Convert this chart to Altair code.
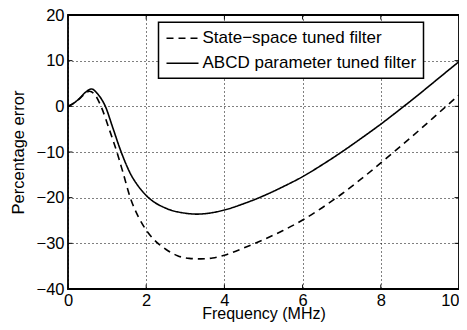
import altair as alt
import pandas as pd

# ---- data ----
freq_ss = [0, 0.15, 0.3, 0.45, 0.55, 0.7, 0.845, 1.05, 1.25, 1.4, 1.6, 1.8, 2.0, 2.2, 2.5,
           2.8, 3.1, 3.4, 3.7, 4.0, 4.5, 5.0, 5.5, 6.0, 6.5, 7.0, 7.5, 8.0, 8.5, 9.0, 9.5, 10]
err_ss = [0, 0.7, 1.7, 2.9, 3.3, 2.4, 0, -4.9, -10, -14.3, -20.2, -24.2, -27.1, -29.2, -31.3,
          -32.7, -33.3, -33.4, -33.2, -32.6, -31.0, -29.2, -27.2, -24.9, -22.2, -19.2, -15.9,
          -12.4, -8.8, -5.1, -1.3, 2.5]

freq_abcd = [0, 0.15, 0.3, 0.45, 0.6, 0.75, 0.955, 1.15, 1.36, 1.6, 1.8, 2.06, 2.5, 3.0, 3.3,
             3.6, 4.0, 4.5, 5.0, 5.5, 6.0, 6.5, 7.0, 7.5, 8.0, 8.5, 9.0, 9.5, 10]
err_abcd = [0, 0.7, 1.8, 3.1, 3.8, 2.8, 0, -4.8, -10, -14.8, -17.5, -20, -22.3, -23.4, -23.6,
            -23.4, -22.7, -21.3, -19.6, -17.6, -15.4, -12.8, -10.0, -7.0, -3.9, -0.6, 2.8,
            6.3, 9.8]

series_names = ["State\u2212space tuned filter", "ABCD parameter tuned filter"]
x_ticks = [0, 2, 4, 6, 8, 10]
y_ticks = [-40, -30, -20, -10, 0, 10, 20]

df = pd.concat([
    pd.DataFrame({"f": freq_ss, "e": err_ss, "s": series_names[0]}),
    pd.DataFrame({"f": freq_abcd, "e": err_abcd, "s": series_names[1]}),
])
df_xt = pd.DataFrame({"t": x_ticks})
df_yt = pd.DataFrame({"t": y_ticks})

W, H = 391, 274
FONT = "Liberation Sans"

xscale = alt.Scale(domain=[0, 10], nice=False, zero=False)
yscale = alt.Scale(domain=[-40, 20], nice=False, zero=False)

lines = alt.Chart(df).mark_line(color="black", strokeWidth=1.6, interpolate="monotone", clip=True).encode(
    x=alt.X("f:Q", scale=xscale,
            axis=alt.Axis(values=x_ticks, title="Frequency (MHz)", labelPadding=3,
                          labelAlign={"condition": {"test": "datum.value == 10", "value": "right"},
                                      "value": "center"},
                          titleBaseline="bottom", titleY=32.5, titleFontSize=16)),
    y=alt.Y("e:Q", scale=yscale,
            axis=alt.Axis(values=y_ticks, title="Percentage error", labelPadding=4, titlePadding=10)),
    strokeDash=alt.StrokeDash(
        "s:N",
        scale=alt.Scale(domain=series_names, range=[[7, 5], [1, 0]]),
        sort=series_names,
        legend=alt.Legend(
            title=None, orient="none", legendX=90.5, legendY=7.2,
            symbolType="M-1,0H3", symbolSize=256, symbolStrokeWidth=1.6,
            symbolStrokeColor="black", symbolFillColor="transparent",
            labelFontSize=17, labelFont=FONT,
            labelColor="black", labelOffset=19, labelLimit=0, rowPadding=8, padding=7,
            strokeColor="black", fillColor="white",
        ),
    ),
)

tick_len = 4.5
xt_bot = alt.Chart(df_xt).mark_rule(color="black", strokeWidth=1).encode(
    x=alt.X("t:Q", scale=xscale), y=alt.value(H), y2=alt.value(H - tick_len))
xt_top = alt.Chart(df_xt).mark_rule(color="black", strokeWidth=1).encode(
    x=alt.X("t:Q", scale=xscale), y=alt.value(0), y2=alt.value(tick_len))
yt_l = alt.Chart(df_yt).mark_rule(color="black", strokeWidth=1).encode(
    y=alt.Y("t:Q", scale=yscale), x=alt.value(0), x2=alt.value(tick_len))
yt_r = alt.Chart(df_yt).mark_rule(color="black", strokeWidth=1).encode(
    y=alt.Y("t:Q", scale=yscale), x=alt.value(W), x2=alt.value(W - tick_len))

chart = alt.layer(lines, xt_bot, xt_top, yt_l, yt_r).properties(
    width=W, height=H,
    autosize=alt.AutoSizeParams(type="none"),
    padding={"left": 60, "top": 7, "right": 0, "bottom": 33},
).configure(
    background="white"
).configure_view(
    stroke="black", strokeWidth=1.8, fill="white"
).configure_axis(
    grid=True, gridColor="black", gridDash=[1, 3], gridWidth=1, gridOpacity=1,
    domain=False, ticks=False, labelFont=FONT, labelFontSize=16.5, labelColor="black",
    titleFont=FONT, titleFontSize=16.5, titleFontWeight="normal", titleColor="black",
    labelFlush=False, labelOverlap=False, labelBound=False,
).configure_legend(
    strokeWidth=1.5
)

chart.save("out.html", embed_options={"renderer": "svg", "actions": False})
